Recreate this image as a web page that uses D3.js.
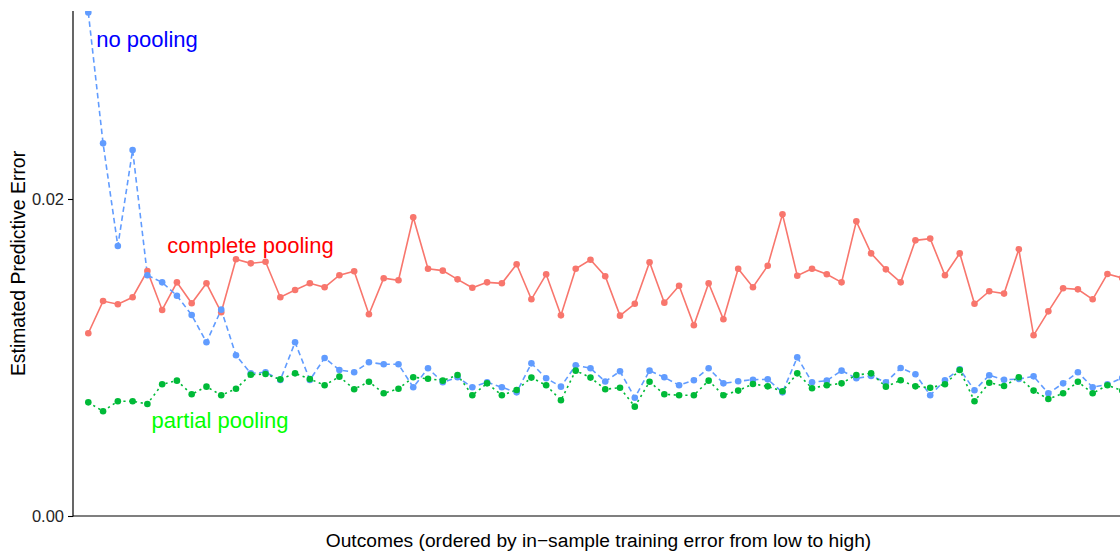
<!DOCTYPE html>
<html>
<head>
<meta charset="utf-8">
<script src="https://cdn.jsdelivr.net/npm/d3@7"></script>
<style>
  html, body { margin: 0; padding: 0; background: #fff; overflow: hidden; }
  svg { display: block; }
  text { font-family: "Liberation Sans", Arial, Helvetica, sans-serif; }
</style>
</head>
<body>
<svg id="chart" width="1120" height="554"></svg>
<script>
// Estimated predictive error per outcome, outcomes ordered by in-sample training error
const completePooling = [
  0.01153, 0.01356, 0.01336, 0.01380, 0.01546, 0.01300, 0.01474, 0.01342, 0.01468, 0.01285,
  0.01620, 0.01594, 0.01604, 0.01380, 0.01426, 0.01468, 0.01443, 0.01519, 0.01544, 0.01273,
  0.01500, 0.01487, 0.01885, 0.01560, 0.01548, 0.01493, 0.01440, 0.01474, 0.01468, 0.01588,
  0.01367, 0.01525, 0.01266, 0.01560, 0.01617, 0.01513, 0.01264, 0.01339, 0.01601, 0.01346,
  0.01453, 0.01203, 0.01468, 0.01241, 0.01560, 0.01443, 0.01579, 0.01903, 0.01516, 0.01560,
  0.01525, 0.01474, 0.01859, 0.01657, 0.01556, 0.01474, 0.01739, 0.01750, 0.01519, 0.01657,
  0.01339, 0.01418, 0.01403, 0.01683, 0.01140, 0.01291, 0.01437, 0.01430, 0.01367, 0.01527,
  0.01502
];
const noPooling = [
  0.03177, 0.02351, 0.01703, 0.02309, 0.01519, 0.01474, 0.01390, 0.01268, 0.01096, 0.01302,
  0.01014, 0.00900, 0.00907, 0.00858, 0.01096, 0.00858, 0.00997, 0.00921, 0.00907, 0.00970,
  0.00957, 0.00957, 0.00812, 0.00932, 0.00844, 0.00875, 0.00812, 0.00844, 0.00812, 0.00780,
  0.00963, 0.00869, 0.00816, 0.00951, 0.00932, 0.00849, 0.00913, 0.00746, 0.00917, 0.00875,
  0.00825, 0.00856, 0.00932, 0.00837, 0.00850, 0.00860, 0.00862, 0.00780, 0.01001, 0.00844,
  0.00854, 0.00917, 0.00869, 0.00883, 0.00844, 0.00934, 0.00894, 0.00762, 0.00856, 0.00926,
  0.00793, 0.00888, 0.00860, 0.00864, 0.00881, 0.00774, 0.00837, 0.00907, 0.00812, 0.00831,
  0.00871
];
const partialPooling = [
  0.00717, 0.00661, 0.00724, 0.00724, 0.00707, 0.00831, 0.00854, 0.00768, 0.00816, 0.00762,
  0.00803, 0.00891, 0.00896, 0.00862, 0.00900, 0.00864, 0.00825, 0.00879, 0.00800, 0.00847,
  0.00774, 0.00803, 0.00875, 0.00866, 0.00854, 0.00890, 0.00762, 0.00837, 0.00762, 0.00795,
  0.00873, 0.00825, 0.00730, 0.00917, 0.00873, 0.00800, 0.00809, 0.00690, 0.00847, 0.00768,
  0.00762, 0.00762, 0.00854, 0.00762, 0.00791, 0.00833, 0.00818, 0.00787, 0.00900, 0.00806,
  0.00825, 0.00837, 0.00890, 0.00900, 0.00816, 0.00856, 0.00818, 0.00809, 0.00831, 0.00921,
  0.00724, 0.00841, 0.00820, 0.00875, 0.00791, 0.00738, 0.00774, 0.00847, 0.00774, 0.00825,
  0.00791
];
// Outcome rank (1 = lowest in-sample training error)
const outcomeRank = completePooling.map((_, i) => i + 1);
const yTicks = [0, 0.02];

const seriesNames = ["complete pooling", "no pooling", "partial pooling"];
const seriesColors = ["#F8766D", "#619CFF", "#00BA38"];
const labelColors = ["#FF0000", "#0000FF", "#00FF00"];
const seriesValues = [completePooling, noPooling, partialPooling];

const svg = d3.select("#chart");
const panel = { left: 73, top: 11, bottom: 516 };

const x = d3.scaleLinear()
  .domain([1, 71])
  .range([88.3, 1122.2]);
const y = d3.scaleLinear()
  .domain([0, 0.03186])
  .range([panel.bottom, panel.top]);

svg.append("defs").append("clipPath").attr("id", "panel-clip")
  .append("rect")
  .attr("x", panel.left).attr("y", panel.top)
  .attr("width", 1200).attr("height", panel.bottom - panel.top);

const plot = svg.append("g").attr("clip-path", "url(#panel-clip)");

const line = d3.line()
  .x(d => x(d.rank))
  .y(d => y(d.value));

const dashes = [null, "5.5,3.5", "2.2,3.6"];

const series = seriesValues.map((vals, k) => ({
  name: seriesNames[k],
  color: seriesColors[k],
  dash: dashes[k],
  points: vals.map((v, i) => ({ rank: outcomeRank[i], value: v }))
}));

// lines first, then all points on top
const drawOrder = [0, 1, 2];
drawOrder.forEach(k => {
  const s = series[k];
  plot.append("path")
    .datum(s.points)
    .attr("fill", "none")
    .attr("stroke", s.color)
    .attr("stroke-width", 1.6)
    .attr("stroke-dasharray", s.dash)
    .attr("d", line);
});
drawOrder.forEach(k => {
  const s = series[k];
  plot.append("g")
    .selectAll("circle")
    .data(s.points)
    .join("circle")
    .attr("cx", d => x(d.rank))
    .attr("cy", d => y(d.value))
    .attr("r", 3.3)
    .attr("fill", s.color);
});

// axes
const yAxis = svg.append("g")
  .attr("transform", `translate(${panel.left},0)`)
  .attr("font-size", 16.5)
  .call(d3.axisLeft(y).tickValues(yTicks).tickFormat(d3.format(".2f")).tickSize(5).tickPadding(4));
yAxis.select(".domain").remove();
yAxis.selectAll(".tick line").attr("stroke", "#000").attr("stroke-width", 1.1);
yAxis.selectAll(".tick text")
  .attr("fill", "#262626")
  .attr("font-size", 16.5)
  .style("font-size", "16.5px")
  .style("font-family", '"Liberation Sans", Arial, sans-serif');

svg.append("line")
  .attr("x1", panel.left).attr("x2", panel.left)
  .attr("y1", panel.top).attr("y2", panel.bottom + 0.5)
  .attr("stroke", "#000").attr("stroke-width", 1.2);
svg.append("line")
  .attr("x1", panel.left).attr("x2", 1120)
  .attr("y1", panel.bottom).attr("y2", panel.bottom)
  .attr("stroke", "#000").attr("stroke-width", 1.2);

// axis titles
svg.append("text")
  .attr("x", 598.5).attr("y", 546.5)
  .attr("text-anchor", "middle")
  .attr("fill", "#000")
  .style("font-size", "19.2px")
  .text("Outcomes (ordered by in\u2212sample training error from low to high)");

svg.append("text")
  .attr("transform", `translate(25,${(panel.top + panel.bottom) / 2}) rotate(-90)`)
  .attr("text-anchor", "middle")
  .attr("fill", "#000")
  .style("font-size", "19.4px")
  .text("Estimated Predictive Error");

// series labels
const labelPos = [
  { x: 250.5, y: 253.3 },
  { x: 147, y: 47.3 },
  { x: 220, y: 428.3 }
];
seriesNames.forEach((name, k) => {
  svg.append("text")
    .attr("x", labelPos[k].x).attr("y", labelPos[k].y)
    .attr("text-anchor", "middle")
    .attr("fill", labelColors[k])
    .style("font-size", "22px")
    .text(name);
});
</script>
</body>
</html>
